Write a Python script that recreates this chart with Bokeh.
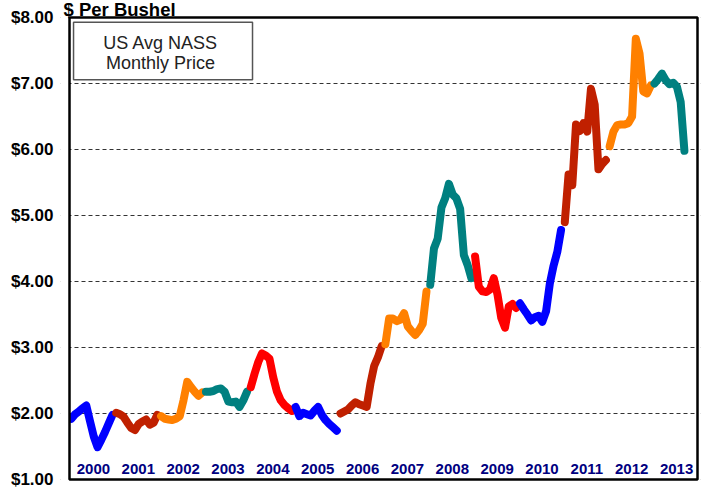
from bokeh.plotting import figure
from bokeh.models import FixedTicker, NumeralTickFormatter, Label, BoxAnnotation, Range1d
from bokeh.embed import file_html
from bokeh.resources import INLINE
from bokeh.core.properties import value

# ---- data: US average NASS monthly price ($ per bushel), one list per calendar year ----
years = list(range(2000, 2014))
price_2000 = [1.92, 1.99, 2.03, 2.08, 2.12, 1.88, 1.65, 1.49, 1.60, 1.72, 1.85, 1.98]
price_2001 = [2.01, 1.99, 1.95, 1.86, 1.78, 1.75, 1.84, 1.88, 1.91, 1.83, 1.86, 1.98]
price_2002 = [1.96, 1.92, 1.91, 1.90, 1.92, 1.96, 2.20, 2.48, 2.40, 2.33, 2.27, 2.32]
price_2003 = [2.33, 2.33, 2.34, 2.37, 2.38, 2.33, 2.18, 2.17, 2.18, 2.10, 2.20, 2.33]
price_2004 = [2.40, 2.60, 2.78, 2.91, 2.88, 2.83, 2.55, 2.33, 2.20, 2.13, 2.08, 2.04]
price_2005 = [2.10, 1.96, 2.01, 1.99, 1.97, 2.04, 2.10, 1.98, 1.90, 1.84, 1.79, 1.74]
price_2006 = [2.00, 2.03, 2.06, 2.12, 2.17, 2.14, 2.12, 2.10, 2.45, 2.72, 2.85, 3.02]
price_2007 = [3.05, 3.44, 3.44, 3.40, 3.42, 3.52, 3.32, 3.25, 3.19, 3.26, 3.36, 3.85]
price_2008 = [3.95, 4.50, 4.65, 5.12, 5.26, 5.48, 5.32, 5.26, 5.10, 4.40, 4.25, 4.05]
price_2009 = [4.38, 3.92, 3.85, 3.84, 3.88, 4.05, 3.80, 3.45, 3.30, 3.62, 3.66, 3.60]
price_2010 = [3.67, 3.58, 3.50, 3.41, 3.46, 3.48, 3.39, 3.55, 3.97, 4.24, 4.45, 4.78]
price_2011 = [4.90, 5.62, 5.46, 6.38, 6.28, 6.40, 6.27, 6.92, 6.68, 5.70, 5.78, 5.84]
price_2012 = [6.05, 6.27, 6.37, 6.38, 6.38, 6.40, 6.50, 7.68, 7.45, 6.88, 6.85, 6.97]
price_2013 = [7.00, 7.07, 7.15, 7.05, 6.99, 7.01, 6.95, 6.72, 5.98]
prices = [price_2000, price_2001, price_2002, price_2003, price_2004, price_2005, price_2006,
          price_2007, price_2008, price_2009, price_2010, price_2011, price_2012, price_2013]
year_colors = ["#0000FF", "#C02000", "#FF8000", "#008080", "#FF0000"]
y_ticks = [1, 2, 3, 4, 5, 6, 7, 8]

FONT = "Liberation Sans"
X0, X1 = 2000, 2014   # plotted span (years)
Y0, Y1 = 1, 8         # plotted span ($)
PX_X = 44.857         # pixels per year
PX_Y = 65.86          # pixels per dollar

# frame a bit larger than the bordered chart area so the title fits inside it
p = figure(width=704, height=489,
           x_range=Range1d(X0 - 9 / PX_X, X1 + 3 / PX_X),
           y_range=Range1d(Y0 - 3 / PX_Y, Y1 + 16 / PX_Y),
           output_backend="svg", toolbar_location=None,
           min_border_left=60, min_border_right=4, min_border_top=1, min_border_bottom=7)
p.background_fill_color = "white"
p.border_fill_color = "white"
p.outline_line_color = None

p.xaxis.visible = False
p.xgrid.visible = False
p.ygrid.grid_line_color = "#333333"
p.ygrid.grid_line_dash = "4 3"
p.ygrid.grid_line_width = 1

ax = p.yaxis[0]
ax.ticker = FixedTicker(ticks=y_ticks)
ax.formatter = NumeralTickFormatter(format="$0.00")
ax.axis_line_color = None
ax.major_tick_out = 0
ax.major_tick_in = 0
ax.minor_tick_out = 0
ax.minor_tick_in = 0
ax.major_label_standoff = 7
ax.major_label_text_font = FONT
ax.major_label_text_font_style = "bold"
ax.major_label_text_font_size = "17px"
ax.major_label_text_color = "black"

for i, (yr, vals) in enumerate(zip(years, prices)):
    xs = [yr + (m + 0.5) / 12 for m in range(len(vals))]
    p.line(xs, vals, line_width=8, line_color=year_colors[i % len(year_colors)],
           line_cap="round", line_join="round")

# white strips outside the bordered area (hide gridline ends / line caps)
p.add_layout(BoxAnnotation(left=X0 - 20 / PX_X, right=X0, bottom=Y0 - 1, top=Y1 + 1,
                           fill_color="white", fill_alpha=1, line_alpha=0))
p.add_layout(BoxAnnotation(left=X1, right=X1 + 20 / PX_X, bottom=Y0 - 1, top=Y1 + 1,
                           fill_color="white", fill_alpha=1, line_alpha=0))
# chart border
p.add_layout(BoxAnnotation(left=X0, right=X1, bottom=Y0, top=Y1,
                           fill_alpha=0, line_color="black", line_alpha=1, line_width=2.5))

p.text(x=[y + 0.5 for y in years], y=[1.156] * len(years), text=[str(y) for y in years],
       text_font=value(FONT), text_font_style="bold", text_font_size="15px",
       text_color="#000080", text_align="center", text_baseline="middle", x_offset=1.5)

p.add_layout(Label(x=X0, y=Y1 + 8.5 / PX_Y, text="$ Per Bushel", x_offset=-6,
                   text_font=FONT, text_font_style="bold", text_font_size="18.5px",
                   text_color="black", text_baseline="middle", text_align="left"))

p.add_layout(BoxAnnotation(left=2000.09, right=2004.08, bottom=7.058, top=7.928,
                           fill_color="white", fill_alpha=1, line_color="#555555",
                           line_alpha=1, line_width=1.5))
p.add_layout(Label(x=2002.03, y=7.62, text="US Avg NASS", text_font=FONT,
                   text_font_size="18px", text_color="#222222",
                   text_align="center", text_baseline="middle"))
p.add_layout(Label(x=2002.03, y=7.317, text="Monthly Price", text_font=FONT,
                   text_font_size="18px", text_color="#222222",
                   text_align="center", text_baseline="middle"))

open("out.html", "w").write(file_html(p, INLINE))
